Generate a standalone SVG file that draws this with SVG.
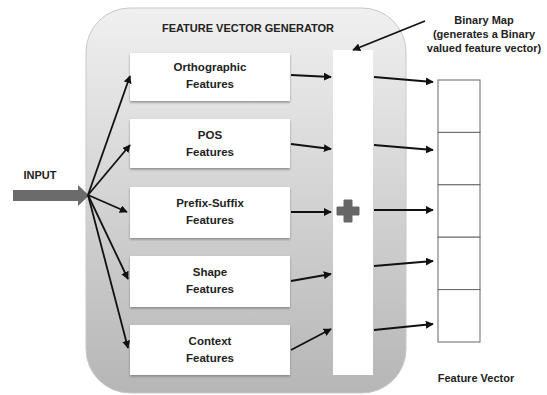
<svg xmlns="http://www.w3.org/2000/svg" width="547" height="395" viewBox="0 0 547 395">
<defs>
<linearGradient id="gbg" x1="0" y1="0" x2="0" y2="1">
<stop offset="0" stop-color="#f0f0f0"/>
<stop offset="1" stop-color="#b6b6b6"/>
</linearGradient>
<marker id="ah" viewBox="0 0 10 10" refX="9" refY="5" markerWidth="8" markerHeight="8" markerUnits="userSpaceOnUse" orient="auto">
<path d="M0,0 L10,5 L0,10 z" fill="#111"/>
</marker>
<filter id="sh" x="-5%" y="-5%" width="110%" height="120%">
<feDropShadow dx="0" dy="1.5" stdDeviation="0.8" flood-color="#777" flood-opacity="0.8"/>
</filter>
</defs>
<style>
text{font-family:"Liberation Sans",Arial,sans-serif;font-weight:bold;font-size:11px;fill:#222;text-anchor:middle}
.bt{font-size:11.5px}
.box{fill:#fff;filter:url(#sh)}
.cell{fill:#fff;stroke:#666;stroke-width:1}
.ln{stroke:#111;stroke-width:1.8;fill:none;marker-end:url(#ah)}
</style>
<rect width="547" height="395" fill="#fff"/>
<g id="generator">
<rect x="86" y="8" width="320" height="385" rx="44" ry="44" fill="url(#gbg)" stroke="#c8c8c8" stroke-width="1"/>
<text x="248" y="32">FEATURE VECTOR GENERATOR</text>
</g>
<g id="orthographic"><rect class="box" x="130" y="53" width="160" height="48"/><text class="bt" x="210" y="71">Orthographic</text><text class="bt" x="210" y="88">Features</text></g>
<g id="pos"><rect class="box" x="130" y="119" width="160" height="49"/><text class="bt" x="210" y="139">POS</text><text class="bt" x="210" y="156">Features</text></g>
<g id="prefix-suffix"><rect class="box" x="130" y="187" width="160" height="51"/><text class="bt" x="210" y="207">Prefix-Suffix</text><text class="bt" x="210" y="224">Features</text></g>
<g id="shape"><rect class="box" x="130" y="256" width="160" height="51"/><text class="bt" x="210" y="276">Shape</text><text class="bt" x="210" y="293">Features</text></g>
<g id="context"><rect class="box" x="130" y="325" width="160" height="50"/><text class="bt" x="210" y="345">Context</text><text class="bt" x="210" y="362">Features</text></g>
<g id="binary-map-bar">
<rect x="333" y="50" width="40" height="325" fill="#fff"/>
<path d="M344,200 h8 v7 h7 v8 h-7 v7 h-8 v-7 h-7 v-8 h7 z" fill="#666" stroke="#666" stroke-width="1" stroke-linejoin="round"/>
</g>
<g id="binary-map-label">
<text x="484" y="24">Binary Map</text>
<text x="484" y="38">(generates a Binary</text>
<text x="484" y="52">valued feature vector)</text>
</g>
<g id="feature-vector">
<rect class="cell" x="438" y="80" width="42" height="52.4"/>
<rect class="cell" x="438" y="132.4" width="42" height="52.4"/>
<rect class="cell" x="438" y="184.8" width="42" height="52.4"/>
<rect class="cell" x="438" y="237.2" width="42" height="52.4"/>
<rect class="cell" x="438" y="289.6" width="42" height="52.4"/>
<text x="476" y="382">Feature Vector</text>
</g>
<g id="input">
<text x="40" y="179">INPUT</text>
<path d="M13,190 H78 V185 L89,195.5 L78,206 V201 H13 z" fill="#6b6b6b"/>
</g>
<g id="connectors">
<line class="ln" x1="88" y1="195" x2="130" y2="76"/>
<line class="ln" x1="88" y1="195" x2="130" y2="145"/>
<line class="ln" x1="88" y1="195" x2="127" y2="212"/>
<line class="ln" x1="88" y1="195" x2="128" y2="279"/>
<line class="ln" x1="88" y1="195" x2="128" y2="348"/>
<line class="ln" x1="291" y1="75" x2="331" y2="77"/>
<line class="ln" x1="291" y1="144" x2="331" y2="149"/>
<line class="ln" x1="291" y1="212" x2="331" y2="212"/>
<line class="ln" x1="291" y1="281" x2="331" y2="274"/>
<line class="ln" x1="291" y1="350" x2="331" y2="329"/>
<line class="ln" x1="374" y1="77" x2="433" y2="82"/>
<line class="ln" x1="374" y1="145" x2="433" y2="150"/>
<line class="ln" x1="374" y1="210" x2="433" y2="210"/>
<line class="ln" x1="374" y1="266" x2="433" y2="261"/>
<line class="ln" x1="374" y1="330" x2="433" y2="324"/>
<line class="ln" x1="425" y1="21" x2="353" y2="50"/>
</g>
</svg>
